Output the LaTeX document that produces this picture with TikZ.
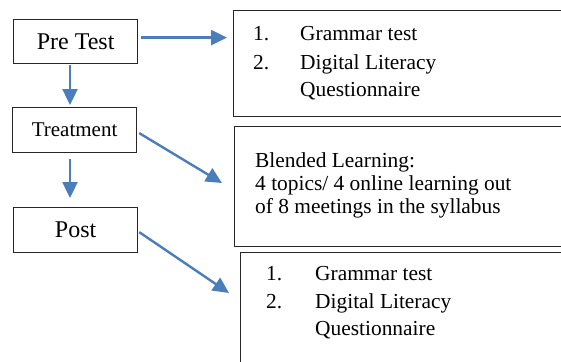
\documentclass[tikz,border=0pt]{standalone}
\usepackage{fontspec}
\setmainfont{Liberation Serif}
\usetikzlibrary{arrows.meta}
\definecolor{arrowblue}{HTML}{4A7EBB}
\tikzset{
  stagebox/.style={draw=black!85, line width=1.2pt, rectangle, inner sep=0pt, anchor=north west},
  infobox/.style={draw=black!85, line width=1.2pt, rectangle, inner sep=0pt, anchor=north west},
  txt/.style={anchor=base west, inner sep=0pt, font=\fontsize{21.4}{24}\selectfont},
  flow/.style={draw=arrowblue, line width=2.4pt, -{Triangle[length=16pt,width=15pt]}}
}
\begin{document}
\begin{tikzpicture}[x=1pt,y=-1pt]
\path[use as bounding box] (0,0) rectangle (561,361);
\clip (0,0) rectangle (561,361);
% left stage boxes
\node[stagebox, minimum width=124pt, minimum height=44pt, font=\fontsize{24}{26}\selectfont] (pre) at (13,19) {Pre Test};
\node[stagebox, minimum width=124pt, minimum height=45pt, font=\fontsize{21}{24}\selectfont] (treat) at (12,107) {Treatment};
\node[stagebox, minimum width=124pt, minimum height=45pt, font=\fontsize{24}{26}\selectfont] (post) at (13,207) {Post};
% right info boxes
\node[infobox, minimum width=360pt, minimum height=106pt] (b1) at (233,10) {};
\node[infobox, minimum width=360pt, minimum height=120pt] (b2) at (234,126) {};
\node[infobox, minimum width=360pt, minimum height=150pt] (b3) at (240,252) {};
% texts box 1
\node[txt] (b1n1) at (253,41) {1.};
\node[txt] (b1t1) at (300,41) {Grammar test};
\node[txt] (b1n2) at (253,69) {2.};
\node[txt] (b1t2) at (300,69) {Digital Literacy};
\node[txt] (b1t3) at (300,96) {Questionnaire};
% texts box 2
\node[txt] (b2t1) at (255,167) {Blended Learning:};
\node[txt] (b2t2) at (255,190) {4 topics/ 4 online learning out};
\node[txt] (b2t3) at (255,213) {of 8 meetings in the syllabus};
% texts box 3
\node[txt] (b3n1) at (266,280) {1.};
\node[txt] (b3t1) at (315,280) {Grammar test};
\node[txt] (b3n2) at (266,308) {2.};
\node[txt] (b3t2) at (315,308) {Digital Literacy};
\node[txt] (b3t3) at (315,335) {Questionnaire};
% connector end points
\coordinate (s1) at ([xshift=3pt,yshift=4pt]pre.east);
\coordinate (e1) at ([xshift=-6pt]b1.west |- s1);
\coordinate (s4) at ([yshift=-1pt]pre.south -| 70,0);
\coordinate (e4) at ([yshift=2pt]treat.north -| 70,0);
\coordinate (s5) at ([yshift=-6pt]treat.south -| 70,0);
\coordinate (e5) at ([yshift=9pt]post.north -| 70,0);
\coordinate (e2) at (222,183);
\coordinate (e3) at (229,293);
% arrows
\draw[flow] (s1) -- (e1);
\draw[flow] (s4) -- (e4);
\draw[flow] (s5) -- (e5);
\draw[flow] ([xshift=2pt,yshift=-3pt]treat.east) -- (e2);
\draw[flow] ([xshift=1pt,yshift=-2pt]post.east) -- (e3);
\end{tikzpicture}
\end{document}
